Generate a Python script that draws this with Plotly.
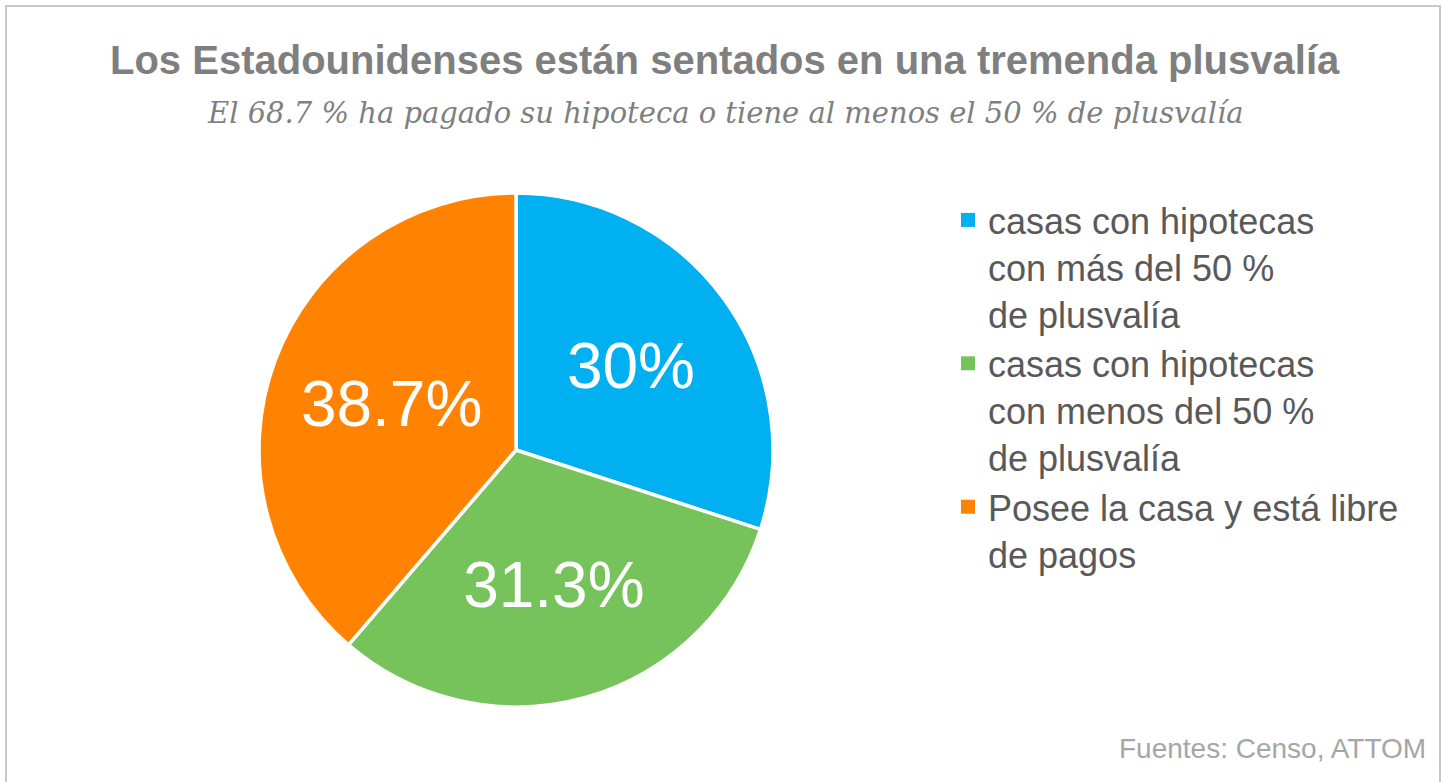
import plotly.graph_objects as go

labels = [
    "casas con hipotecas<br>con más del 50 %<br>de plusvalía",
    "casas con hipotecas<br>con menos del 50 %<br>de plusvalía",
    "Posee la casa y está libre<br>de pagos",
]
values = [30, 31.3, 38.7]
colors = ["#00B0F0", "#77C35B", "#FF8300"]

title_text = "Los Estadounidenses están sentados en una tremenda plusvalía"
subtitle_text = "El 68.7 % ha pagado su hipoteca o tiene al menos el 50 % de plusvalía"
source_text = "Fuentes: Censo, ATTOM"

W, H = 1445, 782
cx, cy, R = 516, 450, 257

fig = go.Figure()
fig.add_trace(go.Pie(
    labels=labels,
    values=values,
    sort=False,
    direction="clockwise",
    rotation=0,
    showlegend=False,
    marker=dict(colors=colors, line=dict(color="white", width=3.5)),
    texttemplate="%{value}%",
    textposition="inside",
    insidetextorientation="horizontal",
    textfont=dict(family="Liberation Sans, Arial", size=64, color="white"),
    hoverinfo="label+percent",
    domain=dict(x=[(cx - R) / W, (cx + R) / W], y=[1 - (cy + R) / H, 1 - (cy - R) / H]),
))

# legend entries (square markers) built from the same labels / colours
for lab, col in zip(labels, colors):
    fig.add_trace(go.Scatter(
        x=[None], y=[None], mode="markers", name=lab,
        marker=dict(symbol="square", size=14, color=col),
        hoverinfo="skip",
    ))

fig.update_layout(
    width=W, height=H,
    margin=dict(l=0, r=0, t=0, b=0),
    paper_bgcolor="white",
    plot_bgcolor="white",
    showlegend=True,
    xaxis=dict(visible=False),
    yaxis=dict(visible=False),
    legend=dict(
        x=948 / W, y=1 - 190 / H, xanchor="left", yanchor="top",
        valign="top",
        font=dict(family="Liberation Sans, Arial", size=36, color="#595959"),
        bgcolor="rgba(0,0,0,0)",
        itemclick=False, itemdoubleclick=False,
    ),
    annotations=[
        dict(text="<b>" + title_text + "</b>", x=725 / W, y=1 - 60 / H, xref="paper", yref="paper",
             xanchor="center", yanchor="middle", showarrow=False,
             font=dict(family="Liberation Sans, Arial", size=40, color="#7F7F7F")),
        dict(text="<i>" + subtitle_text + "</i>", x=725 / W, y=1 - 113 / H, xref="paper", yref="paper",
             xanchor="center", yanchor="middle", showarrow=False,
             font=dict(family="DejaVu Serif, Georgia, serif", size=29, color="#7F7F7F")),
        dict(text=source_text, x=1428 / W, y=1 - 748 / H, xref="paper", yref="paper",
             xanchor="right", yanchor="middle", showarrow=False,
             font=dict(family="Liberation Sans, Arial", size=28, color="#A6A6A6")),
    ],
    shapes=[
        dict(type="rect", xref="paper", yref="paper",
             x0=6 / W, x1=1440 / W, y0=-0.05, y1=1 - 6 / H,
             line=dict(color="#C8C8C8", width=2), fillcolor="rgba(0,0,0,0)", layer="below"),
    ],
)

fig.write_html("out.html")
